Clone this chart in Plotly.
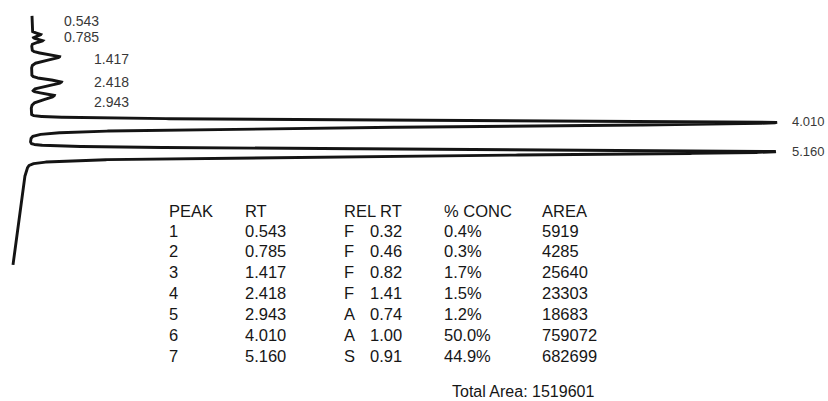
import numpy as np
import plotly.graph_objects as go

# ---- Peak table ----
peak_no = [1, 2, 3, 4, 5, 6, 7]
peak_rt = [0.543, 0.785, 1.417, 2.418, 2.943, 4.010, 5.160]
rel_flag = ["F", "F", "F", "F", "A", "A", "S"]
rel_rt = ["0.32", "0.46", "0.82", "1.41", "0.74", "1.00", "0.91"]
conc = ["0.4%", "0.3%", "1.7%", "1.5%", "1.2%", "50.0%", "44.9%"]
area = [5919, 4285, 25640, 23303, 18683, 759072, 682699]
total_area = 1519601

# ---- Trace shape (signal units, time in min) ----
peak_height = [9, 11, 28, 30, 23, 746, 746]
peak_sigma_front = [0.05, 0.05, 0.09, 0.09, 0.07, 0.08, 0.087]
peak_sigma_back = [0.06, 0.06, 0.13, 0.13, 0.15, 0.16, 0.15]
baseline_t = [-0.19, 4.5, 5.6, 6.1, 9.63]
baseline_v = [32, 31, 29, 25, 13]

t = np.arange(-0.19, 9.63, 0.001)
sig = np.interp(t, baseline_t, baseline_v)
for rt, h, sf, sb in zip(peak_rt, peak_height, peak_sigma_front, peak_sigma_back):
    s = np.where(t < rt, sf, sb)
    sig = sig + h * np.exp(-0.5 * ((t - rt) / s) ** 2)

fig = go.Figure()
fig.add_trace(go.Scatter(x=sig, y=t, mode="lines",
                         line=dict(color="#141414", width=2.9),
                         hoverinfo="skip", showlegend=False))

H = 401
FONT = "Liberation Sans, Arial, sans-serif"

# Peak labels (positioned from retention time with small offsets)
label_x = [62, 62, 92, 92, 92, 790, 790]
label_shift = [13.5, 3.6, -2.4, 0, -6.7, 1.4, -0.4]
label_size = [14, 14, 14, 14, 14, 13, 13]
for rt, lx, ys, fs in zip(peak_rt, label_x, label_shift, label_size):
    fig.add_annotation(x=lx, y=rt, xref="x", yref="y", text=f"{rt:.3f}",
                       showarrow=False, xanchor="left", yanchor="middle",
                       yshift=ys, font=dict(family=FONT, size=fs, color="#383838"))

# Report table
col_x = [167, 243, 342, 442, 540]
headers = ["PEAK", "RT", "REL RT", "% CONC", "AREA"]
hdr_y = 210.5
row_y0, row_dy = 230.7, 20.8
tf = dict(family=FONT, size=16.5, color="#161616")

def py(v):
    return 1 - v / H

for cx, htxt in zip(col_x, headers):
    fig.add_annotation(x=cx, y=py(hdr_y), xref="x", yref="paper", text=htxt,
                       showarrow=False, xanchor="left", yanchor="middle", font=tf)

for i in range(len(peak_no)):
    yy = py(row_y0 + row_dy * i)
    cells = [(167, str(peak_no[i])), (243, f"{peak_rt[i]:.3f}"),
             (342, rel_flag[i]), (368, rel_rt[i]), (442, conc[i]), (540, str(area[i]))]
    for cx, txt in cells:
        fig.add_annotation(x=cx, y=yy, xref="x", yref="paper", text=txt,
                           showarrow=False, xanchor="left", yanchor="middle", font=tf)

fig.add_annotation(x=450, y=py(391), xref="x", yref="paper",
                   text=f"Total Area: {total_area}", showarrow=False,
                   xanchor="left", yanchor="middle",
                   font=dict(family=FONT, size=16, color="#161616"))

fig.update_layout(
    width=828, height=401,
    margin=dict(l=0, r=0, t=0, b=0),
    paper_bgcolor="white", plot_bgcolor="white",
    xaxis=dict(range=[0, 828], visible=False, fixedrange=True),
    yaxis=dict(range=[(H - 20.71) / 25.36, -20.71 / 25.36], visible=False, fixedrange=True),
    showlegend=False,
)

fig.write_html("out.html", config={"displayModeBar": False},
               post_script="document.body.style.margin='0px';document.body.style.overflow='hidden';")
